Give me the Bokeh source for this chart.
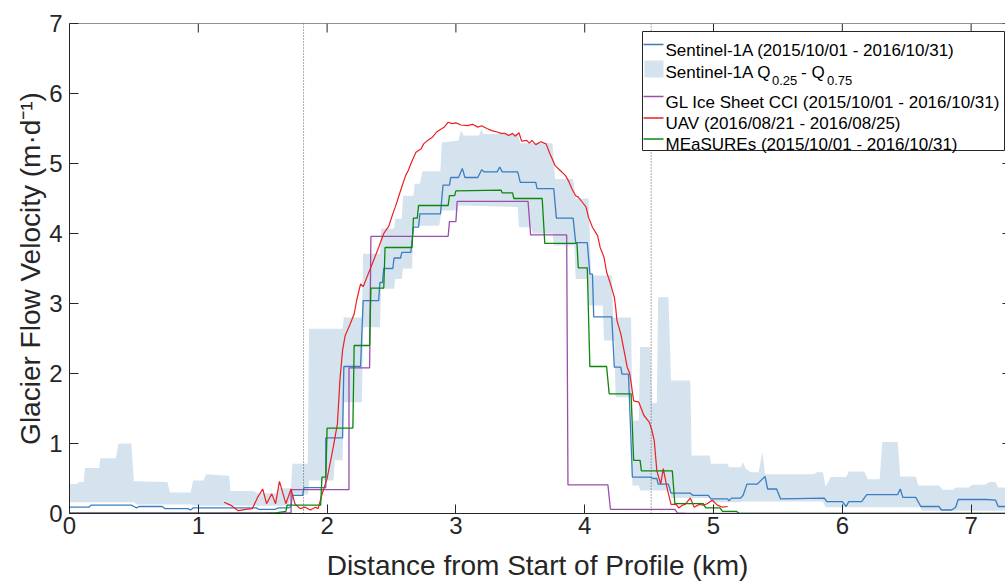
from bokeh.plotting import figure
from bokeh.models import Range1d, Span, BoxAnnotation, Label, FixedTicker
from bokeh.embed import file_html
from bokeh.resources import INLINE

# ---------------- data ----------------
x_ticks = [0, 1, 2, 3, 4, 5, 6, 7]
y_ticks = [0, 1, 2, 3, 4, 5, 6, 7]
profile_markers_km = [1.817, 4.516]

# Sentinel-1A median velocity
s1_km = [0, 0.15, 0.17, 0.48, 0.50, 0.52, 0.54, 0.72, 0.74, 0.92, 0.94, 0.96, 1.45, 1.47, 1.60,
         1.62, 1.70, 1.72, 1.73, 1.81, 1.82, 1.99, 1.99, 2.12, 2.13, 2.26, 2.28, 2.40, 2.41, 2.43,
         2.44, 2.51, 2.52, 2.57, 2.58, 2.65, 2.67, 2.71, 2.72, 2.88, 2.90, 2.95, 2.96, 3.02, 3.05,
         3.07, 3.17, 3.20, 3.22, 3.32, 3.34, 3.36, 3.48, 3.50, 3.62, 3.63, 3.76, 3.78, 3.91, 3.93,
         4.02, 4.04, 4.06, 4.07, 4.21, 4.23, 4.28, 4.29, 4.34, 4.37, 4.51, 4.53, 4.56, 4.57, 4.65,
         4.67, 4.82, 4.84, 4.96, 4.98, 5.11, 5.12, 5.14, 5.21, 5.23, 5.26, 5.34, 5.40, 5.42, 5.49,
         5.52, 5.86, 5.88, 6.00, 6.03, 6.05, 6.15, 6.19, 6.43, 6.45, 6.47, 6.57, 6.61, 6.75, 6.77,
         6.85, 6.88, 6.90, 7.12, 7.19, 7.21, 7.27]
s1_vel = [0.09, 0.09, 0.12, 0.12, 0.10, 0.08, 0.10, 0.10, 0.07, 0.07, 0.05, 0.08, 0.08, 0.06, 0.06,
          0.08, 0.08, 0.10, 0.26, 0.26, 0.37, 0.37, 1.08, 1.08, 2.10, 2.10, 3.04, 3.04, 3.30, 3.30,
          3.50, 3.50, 3.65, 3.65, 3.73, 3.73, 4.09, 4.09, 4.28, 4.28, 4.69, 4.69, 4.80, 4.80, 4.93,
          4.80, 4.80, 4.91, 4.88, 4.88, 4.95, 4.88, 4.88, 4.73, 4.73, 4.64, 4.64, 4.22, 4.22, 3.87,
          3.87, 3.42, 3.42, 2.81, 2.81, 2.09, 2.09, 1.99, 1.99, 0.52, 0.52, 0.50, 0.50, 0.42, 0.42,
          0.29, 0.29, 0.26, 0.26, 0.21, 0.21, 0.18, 0.22, 0.22, 0.26, 0.42, 0.42, 0.53, 0.35, 0.35,
          0.21, 0.22, 0.17, 0.17, 0.10, 0.17, 0.17, 0.27, 0.27, 0.35, 0.23, 0.23, 0.10, 0.10, 0.05,
          0.05, 0.09, 0.20, 0.20, 0.19, 0.10, 0.10]

# Sentinel-1A upper quartile (Q0.75)
q75_km = [0, 0.06, 0.07, 0.11, 0.12, 0.23, 0.24, 0.36, 0.38, 0.48, 0.50, 0.76, 0.78, 0.94, 0.96,
          1.04, 1.06, 1.24, 1.25, 1.43, 1.46, 1.61, 1.62, 1.72, 1.73, 1.85, 1.86, 2.12, 2.13, 2.27,
          2.28, 2.41, 2.42, 2.52, 2.53, 2.58, 2.59, 2.67, 2.68, 2.72, 2.74, 2.88, 2.89, 3.02, 3.04,
          3.06, 3.18, 3.20, 3.21, 3.48, 3.50, 3.75, 3.77, 3.91, 3.93, 4.03, 4.05, 4.21, 4.22, 4.36,
          4.37, 4.42, 4.43, 4.51, 4.52, 4.56, 4.57, 4.65, 4.67, 4.82, 4.83, 4.97, 4.98, 5.11, 5.12,
          5.21, 5.23, 5.25, 5.29, 5.35, 5.38, 5.40, 5.78, 5.80, 5.85, 5.87, 5.91, 6.03, 6.05, 6.17,
          6.20, 6.29, 6.31, 6.43, 6.45, 6.57, 6.59, 6.75, 6.78, 6.86, 6.88, 6.98, 7.01, 7.11, 7.14,
          7.19, 7.21, 7.27]
q75_vel = [0.42, 0.42, 0.45, 0.45, 0.65, 0.65, 0.79, 0.79, 1.00, 1.00, 0.46, 0.45, 0.30, 0.30, 0.47,
           0.47, 0.56, 0.54, 0.32, 0.32, 0.29, 0.29, 0.36, 0.36, 0.71, 0.71, 2.64, 2.64, 2.80, 2.80,
           3.71, 3.71, 4.07, 4.07, 4.21, 4.21, 4.54, 4.54, 4.71, 4.71, 4.89, 4.89, 5.30, 5.33, 5.47,
           5.40, 5.40, 5.50, 5.42, 5.42, 5.29, 5.29, 4.78, 4.78, 4.50, 4.50, 3.40, 3.40, 2.80, 2.80,
           1.33, 1.33, 2.38, 2.38, 1.58, 1.58, 3.09, 3.09, 1.90, 1.90, 0.83, 0.83, 0.71, 0.71, 0.66,
           0.66, 0.73, 0.64, 0.59, 0.59, 0.88, 0.56, 0.56, 0.59, 0.59, 0.38, 0.52, 0.52, 0.60, 0.60,
           0.49, 0.49, 1.02, 1.02, 0.53, 0.53, 0.40, 0.40, 0.34, 0.34, 0.37, 0.37, 0.41, 0.41, 0.45,
           0.45, 0.37, 0.37]

# Sentinel-1A lower quartile (Q0.25)
q25_km = [0, 0.50, 0.52, 0.95, 0.97, 1.70, 1.72, 1.85, 1.86, 2.05, 2.06, 2.12, 2.13, 2.27, 2.28,
          2.41, 2.42, 2.52, 2.53, 2.58, 2.59, 2.66, 2.67, 2.87, 2.89, 3.01, 3.02, 3.48, 3.49, 3.58,
          3.60, 3.75, 3.76, 3.92, 3.93, 4.02, 4.03, 4.14, 4.15, 4.23, 4.24, 4.36, 4.37, 4.42, 4.43,
          4.66, 4.67, 4.97, 4.98, 5.20, 5.22, 5.85, 5.87, 6.60, 6.62, 7.27]
q25_vel = [0.16, 0.16, 0.13, 0.13, 0.11, 0.11, 0.27, 0.27, 0.47, 0.47, 0.76, 0.76, 1.59, 1.59, 2.66,
           2.66, 3.21, 3.21, 3.35, 3.35, 3.50, 3.50, 4.11, 4.11, 4.33, 4.33, 4.40, 4.38, 4.09, 4.09,
           4.00, 4.00, 3.83, 3.83, 3.35, 3.35, 2.97, 2.97, 2.47, 2.47, 1.66, 1.66, 0.40, 0.40, 0.33,
           0.33, 0.22, 0.22, 0.16, 0.16, 0.17, 0.17, 0.09, 0.09, 0.04, 0.04]

# GL Ice Sheet CCI
cci_km = [0, 1.72, 1.72, 2.17, 2.17, 2.33, 2.34, 2.94, 2.95, 3.00, 3.01, 3.56, 3.58, 3.86, 3.87,
          4.18, 4.20, 4.70, 4.72, 4.80, 7.27]
cci_vel = [0.01, 0.01, 0.34, 0.34, 2.08, 2.08, 3.96, 3.96, 4.17, 4.17, 4.46, 4.46, 3.98, 3.98, 0.41,
           0.41, 0.06, 0.06, 0.01, 0.0, 0.0]

# UAV
uav_km = [1.20, 1.25, 1.31, 1.37, 1.42, 1.46, 1.50, 1.53, 1.57, 1.60, 1.63, 1.68, 1.72, 1.75, 1.79,
          1.83, 1.87, 1.91, 1.93, 1.96, 2.00, 2.03, 2.05, 2.08, 2.10, 2.12, 2.14, 2.18, 2.21, 2.23,
          2.26, 2.28, 2.31, 2.36, 2.40, 2.44, 2.48, 2.51, 2.53, 2.57, 2.61, 2.63, 2.66, 2.69, 2.73,
          2.75, 2.78, 2.82, 2.85, 2.91, 2.94, 2.97, 3.00, 3.04, 3.09, 3.13, 3.17, 3.20, 3.24, 3.28,
          3.32, 3.35, 3.38, 3.41, 3.44, 3.46, 3.49, 3.51, 3.55, 3.57, 3.59, 3.62, 3.66, 3.70, 3.73,
          3.77, 3.81, 3.85, 3.88, 3.90, 3.93, 3.95, 3.98, 4.01, 4.03, 4.06, 4.10, 4.12, 4.15, 4.17,
          4.20, 4.23, 4.24, 4.25, 4.28, 4.30, 4.33, 4.35, 4.38, 4.42, 4.46, 4.50, 4.52, 4.54, 4.56,
          4.59, 4.61, 4.64, 4.67, 4.71, 4.73, 4.76, 4.78, 4.82, 4.85, 4.89, 4.92, 4.95, 4.99, 5.03,
          5.07, 5.11]
uav_vel = [0.16, 0.12, 0.04, 0.06, 0.07, 0.23, 0.35, 0.14, 0.28, 0.14, 0.46, 0.14, 0.35, 0.14, 0.07,
           0.09, 0.05, 0.09, 0.07, 0.27, 0.50, 0.78, 0.97, 1.28, 1.92, 2.33, 2.54, 2.71, 2.85, 3.05,
           3.28, 3.24, 3.38, 3.61, 3.80, 4.00, 4.11, 4.28, 4.38, 4.61, 4.83, 4.90, 5.04, 5.16, 5.21,
           5.28, 5.33, 5.38, 5.45, 5.52, 5.59, 5.57, 5.58, 5.55, 5.54, 5.56, 5.52, 5.54, 5.50, 5.47,
           5.45, 5.43, 5.43, 5.40, 5.43, 5.39, 5.44, 5.32, 5.33, 5.29, 5.33, 5.27, 5.31, 5.28, 5.14,
           4.97, 4.90, 4.83, 4.73, 4.64, 4.54, 4.52, 4.45, 4.38, 4.23, 4.09, 3.97, 3.80, 3.66, 3.45,
           3.28, 3.09, 2.95, 2.76, 2.57, 2.38, 2.09, 2.00, 1.61, 1.59, 1.40, 1.31, 1.20, 1.04, 0.61,
           0.42, 0.64, 0.36, 0.13, 0.13, 0.08, 0.12, 0.13, 0.22, 0.09, 0.13, 0.12, 0.14, 0.19, 0.12,
           0.09, 0.10]

# MEaSUREs
mea_km = [0, 1.50, 1.60, 1.68, 1.69, 1.95, 1.96, 1.99, 2.00, 2.20, 2.21, 2.33, 2.34, 2.44, 2.45,
          2.66, 2.67, 2.70, 2.71, 2.94, 2.95, 2.99, 3.00, 3.35, 3.36, 3.44, 3.45, 3.67, 3.69, 3.94,
          3.95, 4.02, 4.04, 4.17, 4.19, 4.36, 4.38, 4.43, 4.44, 4.68, 4.70, 4.92, 4.94, 5.05, 5.07,
          5.18, 5.20, 7.27]
mea_vel = [0.0, 0.0, 0.01, 0.03, 0.12, 0.12, 0.52, 0.52, 1.22, 1.22, 2.40, 2.40, 3.22, 3.22, 3.80,
           3.80, 4.22, 4.22, 4.40, 4.40, 4.54, 4.54, 4.61, 4.62, 4.58, 4.58, 4.50, 4.50, 3.86, 3.86,
           3.51, 3.51, 2.10, 2.10, 1.71, 1.71, 0.76, 0.76, 0.61, 0.61, 0.14, 0.14, 0.08, 0.08, 0.03,
           0.03, 0.0, 0.0]

# ---------------- styling ----------------
FONT = "Liberation Sans"
AX = "#262626"
C_S1 = "#3a7dc1"
C_BAND = "#d5e3ef"
C_CCI = "#9b4ea9"
C_UAV = "#ee1f22"
C_MEA = "#0c870c"

W, H = 1005, 584
L, T, B = 69, 23, 71
X_MAX = 7.267
Y_MAX = 7
TICK_PX = 9


def px_x(px):
    return (px - L) * X_MAX / (W - L)


def px_y(py):
    return (H - B - py) * Y_MAX / (H - B - T)


p = figure(width=W, height=H, x_range=Range1d(0, X_MAX), y_range=Range1d(0, Y_MAX),
           output_backend="svg", toolbar_location=None,
           min_border_left=L, min_border_right=0, min_border_top=T, min_border_bottom=B,
           x_axis_label="Distance from Start of Profile (km)",
           y_axis_label="Glacier Flow Velocity (m\u00b7d\u207b\u00b9)")
p.outline_line_color = None
p.grid.visible = False
p.background_fill_color = "white"
p.border_fill_color = "white"

for ax in (p.xaxis[0], p.yaxis[0]):
    ax.axis_line_color = AX
    ax.major_tick_line_color = AX
    ax.major_tick_in = TICK_PX
    ax.major_tick_out = 0
    ax.minor_tick_line_color = None
    ax.major_label_text_font = FONT
    ax.major_label_text_font_size = "24px"
    ax.major_label_text_color = AX
    ax.axis_label_text_font = FONT
    ax.axis_label_text_font_size = "28px"
    ax.axis_label_text_font_style = "normal"
    ax.axis_label_text_color = AX
p.xaxis.ticker = FixedTicker(ticks=x_ticks)
p.yaxis.ticker = FixedTicker(ticks=y_ticks)
p.xaxis.major_label_standoff = 3
p.xaxis.axis_label_standoff = 13
p.yaxis.major_label_standoff = 7
p.yaxis.axis_label_standoff = 0

# quartile band
p.patch(x=q75_km + q25_km[::-1], y=q75_vel + q25_vel[::-1], fill_color=C_BAND, line_color=None)

for loc in profile_markers_km:
    p.add_layout(Span(location=loc, dimension="height", line_color="#555555",
                      line_dash="1 2", line_width=1))

p.line(s1_km, s1_vel, line_color=C_S1, line_width=1.3)
p.line(cci_km, cci_vel, line_color=C_CCI, line_width=1.3)
p.line(uav_km, uav_vel, line_color=C_UAV, line_width=1.2)
p.line(mea_km, mea_vel, line_color=C_MEA, line_width=1.3)

# box: top border with inward ticks, and the stubs of the right-hand ticks at the cut edge
p.add_layout(Span(location=Y_MAX, dimension="width", line_color=AX, line_width=1))
p.segment(x0=x_ticks, x1=x_ticks, y0=[Y_MAX] * len(x_ticks),
          y1=[Y_MAX - TICK_PX * Y_MAX / (H - B - T)] * len(x_ticks),
          line_color=AX, line_width=1)
p.segment(x0=[px_x(1002)] * len(y_ticks), x1=[X_MAX] * len(y_ticks), y0=y_ticks, y1=y_ticks,
          line_color=AX, line_width=1)

# ---------------- legend (positioned in pixels, converted to data units) ----------------
p.add_layout(BoxAnnotation(left=px_x(642), right=px_x(1004), top=px_y(31), bottom=px_y(150),
                           fill_color="white", fill_alpha=1, line_color=AX, line_alpha=1,
                           line_width=1))


def sample_line(cy, color):
    p.add_layout(BoxAnnotation(left=px_x(643), right=px_x(663), top=px_y(cy - 0.7),
                               bottom=px_y(cy + 0.7), fill_color=color, fill_alpha=1,
                               line_color=None))


def text(x, base, s, size="17px"):
    p.add_layout(Label(x=px_x(x), y=px_y(base), text=s, text_font=FONT, text_font_size=size,
                       text_color="black", text_baseline="alphabetic", text_align="left"))


sample_line(44, C_S1)
text(665, 50, "Sentinel-1A (2015/10/01 - 2016/10/31)")
p.add_layout(BoxAnnotation(left=px_x(644), right=px_x(663), top=px_y(60), bottom=px_y(77),
                           fill_color=C_BAND, fill_alpha=1, line_color=None))
text(665, 71.7, "Sentinel-1A Q")
text(771.5, 80, "0.25", "13px")
text(800.5, 71.7, "- Q")
text(826.5, 80, "0.75", "13px")
sample_line(96, C_CCI)
text(665, 101.7, "GL Ice Sheet CCI (2015/10/01 - 2016/10/31)")
sample_line(117.5, C_UAV)
text(665, 123.3, "UAV (2016/08/21 - 2016/08/25)")
sample_line(138.5, C_MEA)
text(665, 144.3, "MEaSUREs (2015/10/01 - 2016/10/31)")

open("out.html", "w").write(file_html(p, INLINE, title="Glacier flow velocity profile"))
